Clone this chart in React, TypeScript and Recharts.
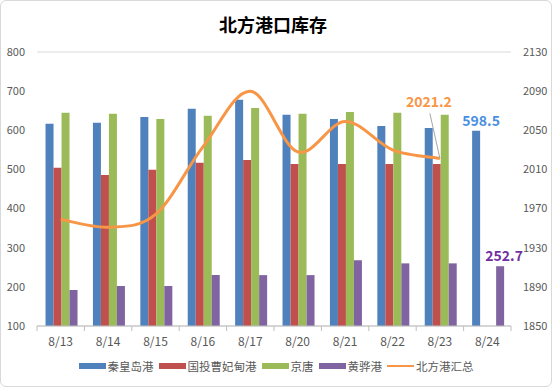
import {
  Bar,
  Line,
  XAxis,
  YAxis,
  CartesianGrid,
  Legend,
  LabelList,
  ComposedChart,
} from 'recharts';

const dates = ['8/13', '8/14', '8/15', '8/16', '8/17', '8/20', '8/21', '8/22', '8/23', '8/24'];
const qinhuangdao = [617, 619, 634, 655, 678, 640, 629, 611, 606, 598.5];
const caofeidian = [504, 486, 499, 517, 524, 514, 514, 514, 514, null];
const jingtang = [645, 642, 629, 637, 657, 642, 647, 645, 640, null];
const huanghua = [192, 202, 202, 230, 230, 230, 268, 260, 260, 252.7];
const total = [1959, 1951, 1964, 2033, 2090, 2028, 2059, 2030, 2021.2, null];

const leftTicks = [100, 200, 300, 400, 500, 600, 700, 800];
const rightTicks = [1850, 1890, 1930, 1970, 2010, 2050, 2090, 2130];

const data = dates.map((d, i) => ({
  date: d,
  秦皇岛港: qinhuangdao[i],
  国投曹妃甸港: caofeidian[i],
  京唐: jingtang[i],
  黄骅港: huanghua[i],
  北方港汇总: total[i],
}));

const colors = {
  blue: '#4F81BD',
  red: '#C0504D',
  green: '#9BBB59',
  purple: '#8064A2',
  orange: '#F79646',
};

const font = '"Noto Sans CJK SC", "Noto Sans", sans-serif';

// Excel-like smoothed line (catmull-rom style bezier)
const excelSmooth = (context: any) => {
  let pts: [number, number][] = [];
  return {
    areaStart() {},
    areaEnd() {},
    lineStart() {
      pts = [];
    },
    point(x: number, y: number) {
      pts.push([+x, +y]);
    },
    lineEnd() {
      if (!pts.length) return;
      context.moveTo(pts[0][0], pts[0][1]);
      const t = 1 / 6;
      for (let i = 0; i < pts.length - 1; i++) {
        const p0 = pts[i - 1] || pts[i];
        const p1 = pts[i];
        const p2 = pts[i + 1];
        const p3 = pts[i + 2] || p2;
        context.bezierCurveTo(
          p1[0] + (p2[0] - p0[0]) * t,
          p1[1] + (p2[1] - p0[1]) * t,
          p2[0] - (p3[0] - p1[0]) * t,
          p2[1] - (p3[1] - p1[1]) * t,
          p2[0],
          p2[1],
        );
      }
    },
  };
};

const BAND = 47.4;

const DateTick = (props: any) => {
  const { x, y, payload, index } = props;
  return (
    <g>
      <line x1={x - BAND / 2} y1={y - 8} x2={x - BAND / 2} y2={y - 3} stroke="#BFBFBF" />
      {index === dates.length - 1 && (
        <line x1={x + BAND / 2} y1={y - 8} x2={x + BAND / 2} y2={y - 3} stroke="#BFBFBF" />
      )}
      <text x={x} y={y + 12} textAnchor="middle" fontSize={12} fill="#595959" fontFamily={font}>
        {payload.value}
      </text>
    </g>
  );
};

const legendItems = [
  { name: '秦皇岛港', color: colors.blue, line: false },
  { name: '国投曹妃甸港', color: colors.red, line: false },
  { name: '京唐', color: colors.green, line: false },
  { name: '黄骅港', color: colors.purple, line: false },
  { name: '北方港汇总', color: colors.orange, line: true },
];

const LegendContent = () => (
  <div
    style={{
      display: 'flex',
      justifyContent: 'center',
      alignItems: 'center',
      gap: 5,
      fontFamily: font,
      fontSize: 11.5,
      color: '#595959',
    }}
  >
    {legendItems.map((it) => (
      <div key={it.name} style={{ display: 'flex', alignItems: 'center', gap: 2 }}>
        <span
          style={{
            display: 'inline-block',
            width: 27,
            height: it.line ? 2 : 6,
            background: it.color,
          }}
        />
        <span>{it.name}</span>
      </div>
    ))}
  </div>
);

const lastLabel = (color: string, idx: number, dx: number) => (props: any) => {
  const { x, y, width, value, index } = props;
  if (index !== idx || value == null) return null;
  return (
    <text
      x={x + width / 2 + dx}
      y={y - 5}
      textAnchor="middle"
      fontSize={14}
      fontWeight="bold"
      fill={color}
      fontFamily={font}
    >
      {value}
    </text>
  );
};

const totalLabel = (props: any) => {
  const { x, y, index, value } = props;
  if (index !== 8) return null;
  return (
    <g>
      <line x1={x - 10} y1={y - 45} x2={x} y2={y} stroke="#A6A6A6" strokeWidth={1} />
      <text
        x={x - 11}
        y={y - 51}
        textAnchor="middle"
        fontSize={14}
        fontWeight="bold"
        fill={colors.orange}
        fontFamily={font}
      >
        {value}
      </text>
    </g>
  );
};

export default function App() {
  return (
    <div
      style={{
        position: 'absolute',
        left: 0,
        top: 0,
        width: 550,
        height: 385,
        border: '1px solid #D9D9D9',
        borderRadius: 6,
        background: '#fff',
        overflow: 'hidden',
      }}
    >
      <div
        style={{
          position: 'absolute',
          top: 10,
          left: 0,
          width: 544,
          textAlign: 'center',
          fontFamily: font,
          fontWeight: 'bold',
          fontSize: 18,
          lineHeight: '26px',
          color: '#000',
        }}
      >
        北方港口库存
      </div>
      <ComposedChart
        width={550}
        height={385}
        data={data}
        barGap={0}
        barCategoryGap="18%"
        margin={{ top: 51, right: 0, bottom: 6, left: 0 }}
      >
        <CartesianGrid vertical={false} stroke="#D9D9D9" />
        <XAxis
          dataKey="date"
          tick={<DateTick />}
          tickLine={false}
          axisLine={{ stroke: '#BFBFBF' }}
          height={32}
          interval={0}
        />
        <YAxis
          yAxisId="left"
          domain={[100, 800]}
          ticks={leftTicks}
          width={36}
          tick={{ fontSize: 11, fill: '#595959', fontFamily: font }}
          tickLine={false}
          axisLine={false}
          tickMargin={6}
        />
        <YAxis
          yAxisId="right"
          orientation="right"
          domain={[1850, 2130]}
          ticks={rightTicks}
          width={40}
          tick={{ fontSize: 11, fill: '#595959', fontFamily: font }}
          tickLine={false}
          axisLine={false}
          tickMargin={6}
        />
        <Legend verticalAlign="bottom" height={22} content={<LegendContent />} />
        <Bar yAxisId="left" dataKey="秦皇岛港" fill={colors.blue} isAnimationActive={false}>
          <LabelList dataKey="秦皇岛港" content={lastLabel('#4A8FE0', 9, 5)} />
        </Bar>
        <Bar yAxisId="left" dataKey="国投曹妃甸港" fill={colors.red} isAnimationActive={false} />
        <Bar yAxisId="left" dataKey="京唐" fill={colors.green} isAnimationActive={false} />
        <Bar yAxisId="left" dataKey="黄骅港" fill={colors.purple} isAnimationActive={false}>
          <LabelList dataKey="黄骅港" content={lastLabel('#7030A0', 9, 4)} />
        </Bar>
        <Line
          yAxisId="right"
          type={excelSmooth as any}
          dataKey="北方港汇总"
          stroke={colors.orange}
          strokeWidth={3}
          dot={false}
          label={totalLabel}
          isAnimationActive={false}
        />
      </ComposedChart>
    </div>
  );
}
